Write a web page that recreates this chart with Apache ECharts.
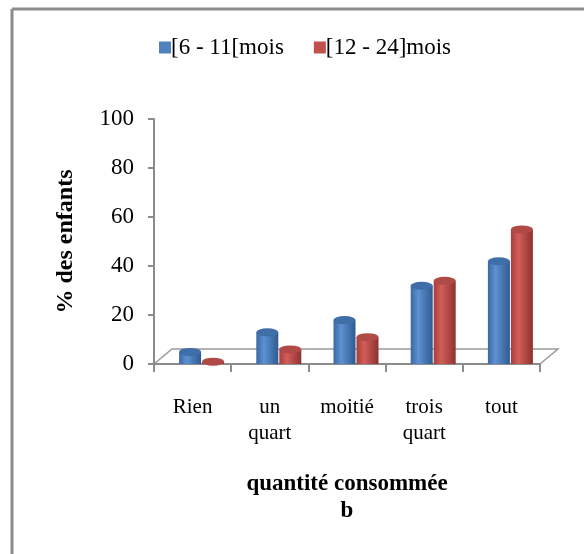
<!DOCTYPE html>
<html><head><meta charset="utf-8">
<script src="https://cdn.jsdelivr.net/npm/echarts@6/dist/echarts.min.js"></script>
<style>html,body{margin:0;padding:0;background:#fff}#c{width:584px;height:554px}</style>
</head><body><div id="c"></div>
<script>
var categories = ['Rien', 'un\nquart', 'moitié', 'trois\nquart', 'tout'];
var seriesNames = ['[6 - 11[mois', '[12 - 24]mois'];
var young = [5, 13, 18, 32, 42];
var older = [1, 6, 11, 34, 55];
var yTicks = [0, 20, 40, 60, 80, 100];

var FONT = '"Liberation Serif", "DejaVu Serif", serif';
function cyl(c1, c2, c3) {
  return new echarts.graphic.LinearGradient(0, 0, 1, 0, [
    {offset: 0, color: c1}, {offset: 0.35, color: c2}, {offset: 1, color: c3}
  ]);
}
var BW = 22, GAP = 1, SHIFT = 9;
var chart = echarts.init(document.getElementById('c'));
chart.setOption({
  animation: false,
  backgroundColor: '#fff',
  textStyle: {fontFamily: FONT},
  legend: {
    top: 31, left: 154, itemWidth: 12, itemHeight: 12, itemGap: 30,
    icon: 'rect',
    textStyle: {fontFamily: FONT, fontSize: 23, color: '#000', padding: [0,0,0,-5]},
    data: [
      {name: seriesNames[0], itemStyle: {color: '#4f81bd'}},
      {name: seriesNames[1], itemStyle: {color: '#c0504d'}}
    ]
  },
  grid: [
    {left: 154, right: 44, top: 119, bottom: 190},
    {left: 154 + SHIFT, right: 44 - SHIFT, top: 119, bottom: 190}
  ],
  xAxis: [{
    type: 'category', data: categories, gridIndex: 0,
    axisLine: {lineStyle: {color: '#8c8c8c', width: 2}},
    axisTick: {show: true, length: 8, lineStyle: {color: '#8c8c8c', width: 2}},
    axisLabel: {
      interval: 0, margin: 30, color: '#000', fontSize: 21, fontFamily: FONT, lineHeight: 26
    },
    name: 'quantité consommée\nb', nameLocation: 'middle', nameGap: 107,
    nameTextStyle: {fontFamily: FONT, fontSize: 23, fontWeight: 'bold', color: '#000', lineHeight: 27}
  }, {
    type: 'category', data: categories, gridIndex: 1, show: false
  }],
  yAxis: [{
    type: 'value', min: 0, max: 100, interval: 20, gridIndex: 0,
    axisLine: {show: true, lineStyle: {color: '#8c8c8c', width: 2}},
    axisTick: {show: true, length: 6, lineStyle: {color: '#8c8c8c', width: 2}},
    splitLine: {show: false},
    axisLabel: {margin: 20, color: '#000', fontSize: 23, fontFamily: FONT,
      formatter: function (v) { return yTicks.indexOf(v) >= 0 ? String(v) : ''; }},
    name: '% des enfants', nameLocation: 'middle', nameGap: 76,
    nameTextStyle: {fontFamily: FONT, fontSize: 24, fontWeight: 'bold', color: '#000'}
  }, {
    type: 'value', min: 0, max: 100, interval: 20, gridIndex: 1, show: false, splitLine: {show: false}
  }],
  series: [
    {name: seriesNames[0], type: 'bar', data: young, barWidth: BW, barGap: (GAP / BW * 100) + '%', z: 2,
     xAxisIndex: 1, yAxisIndex: 1,
     itemStyle: {color: cyl('#3a69a3', '#5d91d2', '#2e5a90')}},
    {name: seriesNames[1], type: 'bar', data: older, barWidth: BW, z: 2,
     xAxisIndex: 1, yAxisIndex: 1,
     itemStyle: {color: cyl('#a53f3c', '#d35d59', '#8c3230')}},
    {name: seriesNames[0] + '_top', type: 'pictorialBar', data: young, symbol: 'circle',
     xAxisIndex: 1, yAxisIndex: 1,
     symbolSize: [BW, 8], symbolPosition: 'end', symbolOffset: [-(BW + GAP) / 2, '-50%'], z: 3,
     itemStyle: {color: '#3f6ea9', borderColor: '#2f5a8e', borderWidth: 0.5}, legendHoverLink: false, tooltip: {show: false}},
    {name: seriesNames[1] + '_top', type: 'pictorialBar', data: older, symbol: 'circle',
     xAxisIndex: 1, yAxisIndex: 1,
     symbolSize: [BW, 8], symbolPosition: 'end', symbolOffset: [(BW + GAP) / 2, '-50%'], z: 3,
     itemStyle: {color: '#b04a47', borderColor: '#8c3230', borderWidth: 0.5}, legendHoverLink: false, tooltip: {show: false}}
  ],
  color: ['#4f81bd', '#c0504d']
});
var p0 = chart.convertToPixel({xAxisIndex: 0, yAxisIndex: 0}, [0, 0]);
var x0 = 154, x1 = 540, yb = p0[1];
chart.setOption({
  graphic: [
    {type: 'line', shape: {x1: 12, y1: 9, x2: 584, y2: 9}, style: {stroke: '#8c8c8c', lineWidth: 3}},
    {type: 'line', shape: {x1: 12, y1: 9, x2: 12, y2: 554}, style: {stroke: '#8c8c8c', lineWidth: 3}},
    {type: 'polyline', z: -1, shape: {points: [[x0, yb], [x0 + 18, yb - 15], [x1 + 18, yb - 15], [x1, yb]]},
     style: {stroke: '#9a9a9a', lineWidth: 1.5, fill: null}}
  ]
});
</script></body></html>
